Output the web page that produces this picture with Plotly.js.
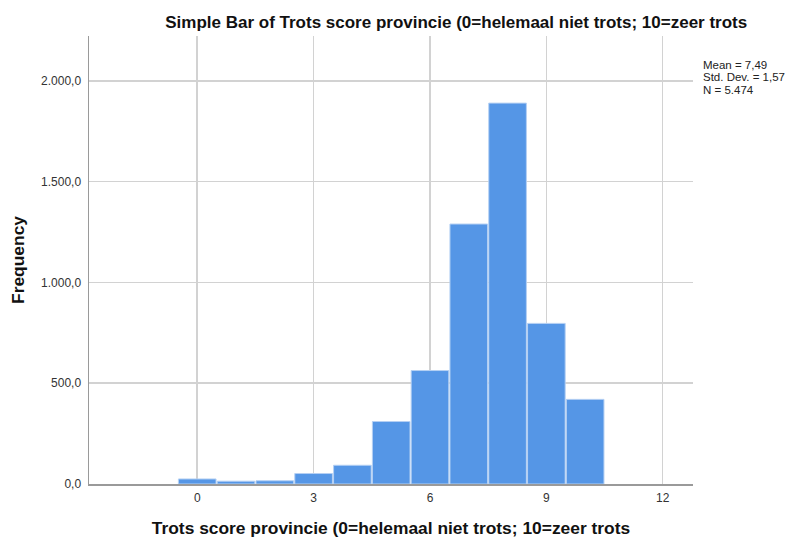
<!DOCTYPE html>
<html>
<head>
<meta charset="utf-8">
<script src="https://cdn.plot.ly/plotly-3.0.1.min.js"></script>
<style>html,body{margin:0;padding:0;background:#fff;}#chart{width:788px;height:538px;}</style>
</head>
<body>
<div id="chart"></div>
<script>
var scores = [0, 1, 2, 3, 4, 5, 6, 7, 8, 9, 10];
var frequencies = [25, 14, 16, 52, 93, 310, 563, 1290, 1890, 797, 420];
var xTickValues = [0, 3, 6, 9, 12];
var yTickValues = [0, 500, 1000, 1500, 2000];
var statsLines = ["Mean = 7,49", "Std. Dev. = 1,57", "N = 5.474"];

var trace = {
  type: 'bar',
  x: scores,
  y: frequencies,
  marker: {color: '#5596E6', line: {color: '#B5D0F3', width: 1}},
  hoverinfo: 'x+y'
};

var FONT = 'Liberation Sans, Arial, sans-serif';
var plotTop = 36, plotBottom = 484;
function paperY(px) { return (plotBottom - px) / (plotBottom - plotTop); }

var statsAnnotations = statsLines.map(function (line, i) {
  return {
    xref: 'paper', yref: 'paper',
    x: 1.013, y: paperY(65 + i * 12.3),
    xanchor: 'left', yanchor: 'middle',
    align: 'left',
    showarrow: false,
    text: line,
    font: {family: FONT, size: 11.5, color: '#222222'}
  };
});

var layout = {
  width: 788,
  height: 538,
  margin: {l: 89, r: 95, t: 36, b: 54},
  paper_bgcolor: '#ffffff',
  plot_bgcolor: '#ffffff',
  separators: ',.',
  bargap: 0.03,
  showlegend: false,
  font: {family: FONT, color: '#333333'},
  title: {
    text: 'Simple Bar of Trots score provincie (0=helemaal niet trots; 10=zeer trots',
    font: {family: FONT, size: 17, color: '#111111', weight: 'bold'},
    xref: 'paper', x: 0.608, xanchor: 'center',
    yref: 'container', y: 0.959, yanchor: 'middle'
  },
  xaxis: {
    range: [-2.79, 12.78],
    tickvals: xTickValues,
    ticktext: xTickValues.map(String),
    showgrid: true,
    gridcolor: '#d2d2d2',
    gridwidth: 1.5,
    zeroline: false,
    showline: true,
    linecolor: '#9a9a9a',
    linewidth: 1.5,
    ticks: 'outside',
    ticklen: 2,
    tickcolor: 'rgba(0,0,0,0)',
    tickfont: {size: 12, color: '#333333'},
    title: {
      text: 'Trots score provincie (0=helemaal niet trots; 10=zeer trots',
      font: {family: FONT, size: 17.4, color: '#111111', weight: 'bold'},
      standoff: 20
    },
    fixedrange: true
  },
  yaxis: {
    range: [0, 2223],
    tickvals: yTickValues,
    tickformat: ',.1f',
    showgrid: true,
    gridcolor: '#d2d2d2',
    gridwidth: 1.5,
    zeroline: false,
    showline: true,
    linecolor: '#9a9a9a',
    linewidth: 1.5,
    ticks: 'outside',
    ticklen: 4,
    tickcolor: 'rgba(0,0,0,0)',
    tickfont: {size: 12, color: '#333333'},
    title: {
      text: 'Frequency',
      font: {family: FONT, size: 17.4, color: '#111111', weight: 'bold'},
      standoff: 12
    },
    fixedrange: true
  },
  annotations: statsAnnotations
};

Plotly.newPlot('chart', [trace], layout, {displayModeBar: false, staticPlot: true});
</script>
</body>
</html>
